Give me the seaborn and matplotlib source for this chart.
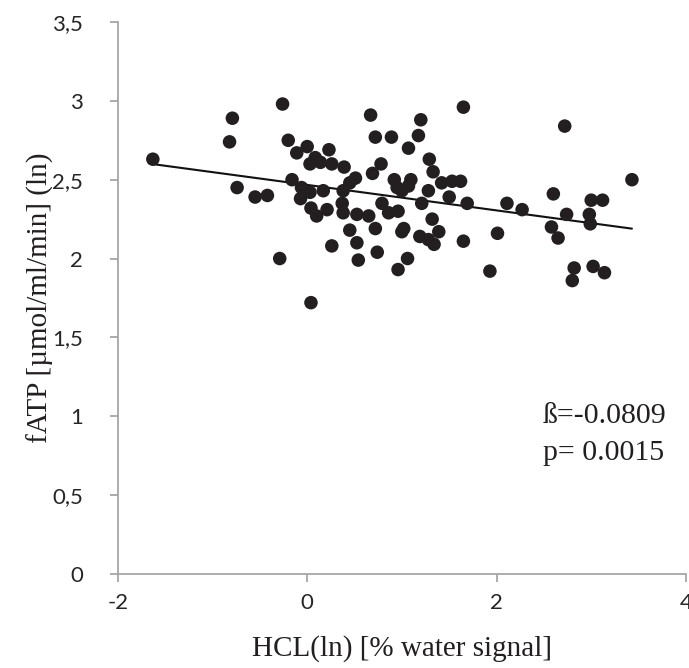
import numpy as np
import pandas as pd
import matplotlib
matplotlib.use('Agg')
import matplotlib.pyplot as plt
import seaborn as sns
from matplotlib.ticker import FuncFormatter

# HCL(ln) vs fATP(ln)
hcl = [-1.63, -0.79, -0.82, -0.26, -0.20, -0.74, -0.55, -0.42, -0.29, 0.04,
       -0.16, -0.11, 0.00, 0.085, 0.03, 0.14, 0.23, 0.26, 0.39, -0.06,
       0.03, 0.17, -0.07, 0.04, 0.21, 0.37, 0.38, 0.10, 0.51, 0.45,
       0.38, 0.525, 0.65, 0.45, 0.525, 0.26, 0.54, 0.67, 0.72, 0.89,
       1.175, 1.07, 1.20, 1.65, 1.29, 0.78, 0.69, 1.33, 0.92, 1.095,
       0.95, 1.00, 1.07, 1.28, 1.42, 1.53, 1.62, 1.50, 1.69, 1.21,
       0.79, 0.86, 0.96, 0.72, 1.02, 1.00, 1.32, 1.39, 1.19, 1.28,
       1.34, 0.74, 1.06, 0.96, 1.65, 1.93, 2.01, 2.72, 3.43, 2.11,
       2.27, 2.60, 2.74, 2.58, 2.65, 3.00, 3.12, 2.98, 2.99, 2.82,
       2.80, 3.02, 3.14]
fatp = [2.63, 2.89, 2.74, 2.98, 2.75, 2.45, 2.39, 2.40, 2.00, 1.72,
        2.50, 2.67, 2.71, 2.64, 2.60, 2.61, 2.69, 2.60, 2.58, 2.45,
        2.42, 2.43, 2.38, 2.32, 2.31, 2.35, 2.29, 2.27, 2.51, 2.48,
        2.43, 2.28, 2.27, 2.18, 2.10, 2.08, 1.99, 2.91, 2.77, 2.77,
        2.78, 2.70, 2.88, 2.96, 2.63, 2.60, 2.54, 2.55, 2.50, 2.50,
        2.45, 2.43, 2.46, 2.43, 2.48, 2.49, 2.49, 2.39, 2.35, 2.35,
        2.35, 2.29, 2.30, 2.19, 2.19, 2.17, 2.25, 2.17, 2.14, 2.12,
        2.09, 2.04, 2.00, 1.93, 2.11, 1.92, 2.16, 2.84, 2.50, 2.35,
        2.31, 2.41, 2.28, 2.20, 2.13, 2.37, 2.37, 2.28, 2.22, 1.94,
        1.86, 1.95, 1.91]

# regression line
beta = -0.0809
intercept = 2.467
p_value = 0.0015

x_ticks = [-2, 0, 2, 4]
y_ticks = [0, 0.5, 1, 1.5, 2, 2.5, 3, 3.5]

df = pd.DataFrame({'hcl': hcl, 'fatp': fatp})
fit = pd.DataFrame({'hcl': [min(hcl), max(hcl)]})
fit['fatp'] = intercept + beta * fit['hcl']

sns.set_style('ticks')
serif = ['Liberation Serif', 'DejaVu Serif']
ticks_font = ['Lato', 'DejaVu Sans']

fig = plt.figure(figsize=(6.89, 6.68), dpi=100)
ax = fig.add_axes([0.171, 0.141, 0.8245, 0.826])

sns.scatterplot(x='hcl', y='fatp', data=df, ax=ax, color='#231f20',
                s=95, edgecolor='none', linewidth=0, zorder=3)
sns.lineplot(x='hcl', y='fatp', data=fit, ax=ax, color='#111111',
             linewidth=1.5, zorder=2)

ax.set_xlim(-2, 4)
ax.set_ylim(0, 3.5)
ax.set_xticks(x_ticks)
ax.set_yticks(y_ticks)
ax.yaxis.set_major_formatter(FuncFormatter(lambda v, pos: f'{v:g}'.replace('.', ',')))
ax.xaxis.set_major_formatter(FuncFormatter(lambda v, pos: f'{v:g}'))

sns.despine(ax=ax)
for side in ['left', 'bottom']:
    ax.spines[side].set_color('#a6a6a6')
    ax.spines[side].set_linewidth(1.3)
ax.tick_params(axis='both', color='#a6a6a6', width=1.3, length=6,
               labelcolor='#262626', labelsize=16)
ax.tick_params(axis='y', pad=19)
ax.tick_params(axis='x', pad=8)
for lbl in ax.get_xticklabels() + ax.get_yticklabels():
    lbl.set_fontfamily(ticks_font)

ax.set_xlabel('HCL(ln) [% water signal]', family=serif, fontsize=21,
              color='#231f20', labelpad=16)
ax.set_ylabel('fATP [µmol/ml/min] (ln)', family=serif, fontsize=21,
              color='#231f20', labelpad=-1)

ax.text(2.49, 1.0, f'ß={beta}', family=serif, fontsize=21.5,
        color='#231f20', va='center', ha='left')
ax.text(2.49, 0.765, f'p= {p_value}', family=serif, fontsize=21.5,
        color='#231f20', va='center', ha='left')

fig.savefig('out.png', dpi=100)
